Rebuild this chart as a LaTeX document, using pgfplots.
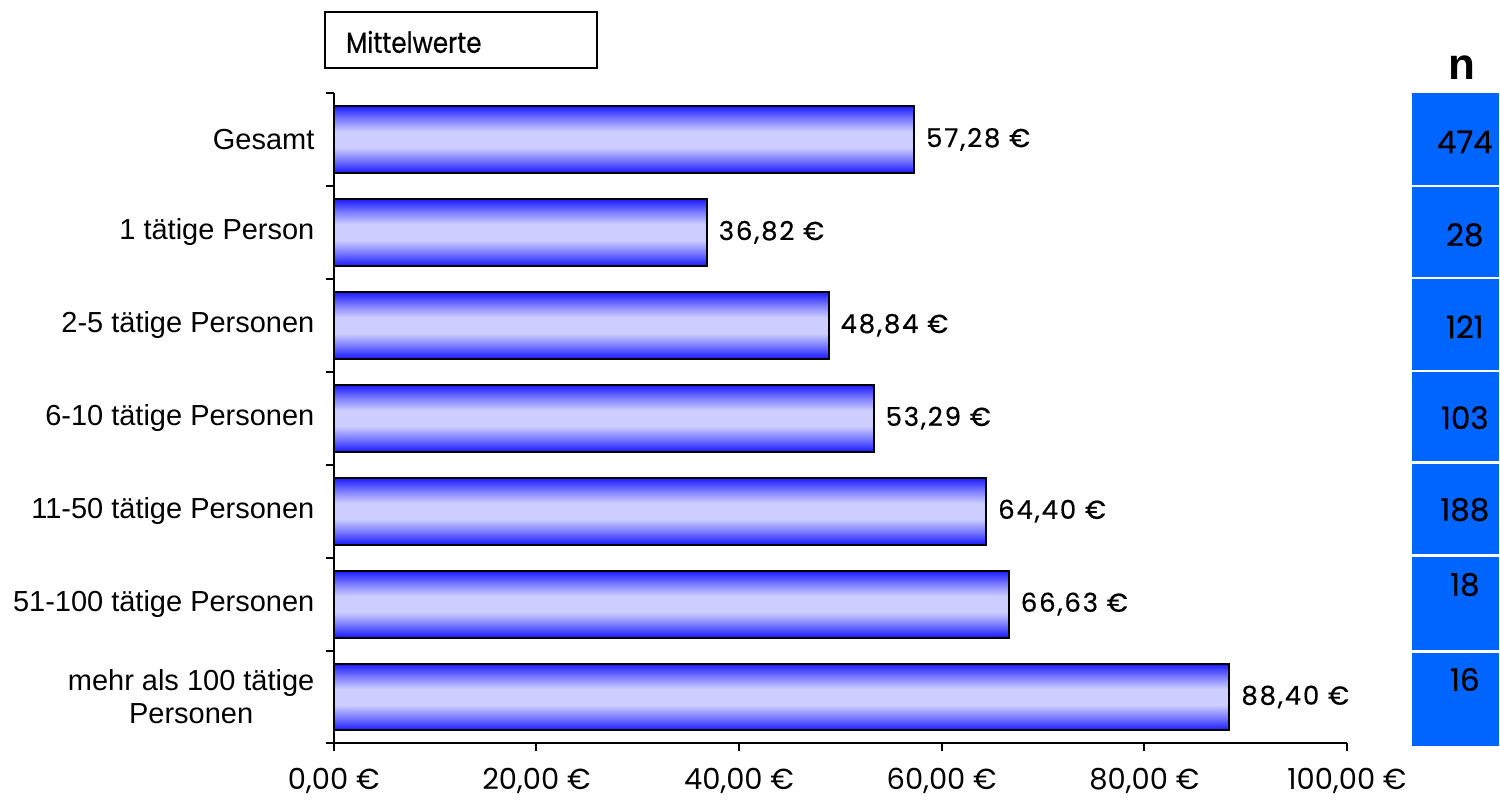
\documentclass[border=0pt]{standalone}
\usepackage{fontspec}
\setmainfont{Liberation Sans}
\newfontfamily\fut{Poppins}
\newfontfamily\futb[FakeBold=0.6]{Poppins}
\newfontfamily\futls[LetterSpace=7,FakeBold=0.5]{Poppins}
\newfontfamily\futt[FakeStretch=0.85,FakeBold=0.5]{Poppins}
\usepackage{pgfplots}
\pgfplotsset{compat=1.18}
\definecolor{panelblue}{RGB}{0,100,255}
\definecolor{barlight}{RGB}{205,205,255}
\definecolor{barmid}{RGB}{125,125,255}
\definecolor{barblue}{RGB}{25,25,255}
\pgfdeclareverticalshading{barshade}{100bp}{color(0bp)=(barblue); color(25bp)=(barblue); color(35bp)=(barmid); color(44bp)=(barlight); color(56bp)=(barlight); color(65bp)=(barmid); color(75bp)=(barblue); color(100bp)=(barblue)}
\pgfplotsset{mybar/.style={draw=black, line width=1bp, shade, shading=barshade, bar shift=0pt}}

\begin{document}
\begin{tikzpicture}
\begin{scope}[x=0.5bp,y=-0.5bp]
\useasboundingbox (0,0) rectangle (1500,802);
\end{scope}
\begin{axis}[
  at={(167bp,-372bp)}, anchor=south west,
  scale only axis, width=507bp, height=325.5bp,
  xmin=0, xmax=100, ymin=-0.5, ymax=6.5,
  y dir=reverse,
  axis x line*=bottom, axis y line*=left,
  axis line style={line width=1bp},
  tick style={line width=1bp, black},
  tick align=outside,
  major tick length=4bp,
  xtick={0,20,...,100},
  /pgf/number format/assume math mode=true,
  /pgf/number format/.cd, fixed, fixed zerofill, precision=2, use comma,
  /pgfplots/.cd,
  xticklabel={\pgfmathprintnumber{\tick} €},
  xticklabel style={font=\fut\fontsize{14.5bp}{16bp}\selectfont, yshift=-5bp},
  ytick={-0.5,0.5,...,6.5},
  yticklabels={},
  extra y ticks={0,1,2,3,4,5,6},
  extra y tick labels={Gesamt,1 tätige Person,2-5 tätige Personen,6-10 tätige Personen,11-50 tätige Personen,51-100 tätige Personen,{mehr als 100 tätige\\Personen}},
  extra y tick style={major tick length=0pt,
    tick label style={font=\fontsize{14.5bp}{16.5bp}\selectfont, align=center, inner sep=0pt, xshift=-9.5bp}},
  xbar, bar width=33.5bp, bar shift=0pt,
  clip=false,
  nodes near coords={\pgfmathprintnumber{\pgfplotspointmeta} €},
  point meta=x,
  nodes near coords style={font=\futls\fontsize{13bp}{14bp}\selectfont, black, anchor=west, inner sep=0pt, xshift=5.5bp},
]
\addplot[mybar] coordinates {(57.28,0)};
\addplot[mybar] coordinates {(36.82,1)};
\addplot[mybar] coordinates {(48.84,2)};
\addplot[mybar] coordinates {(53.29,3)};
\addplot[mybar] coordinates {(64.40,4)};
\addplot[mybar] coordinates {(66.63,5)};
\addplot[mybar] coordinates {(88.40,6)};
\end{axis}
\begin{scope}[x=0.5bp,y=-0.5bp]
% n panel
\fill[panelblue] (1413,93) rectangle (1500,747);
\foreach \yy in {186,278,371,463,556,652} {\draw[white, line width=1.2bp] (1413,\yy) -- (1500,\yy);}
\node[font=\bfseries\fontsize{22bp}{24bp}\selectfont] at (1463,68) {n};
\foreach \t/\yy in {474/142,28/235,121/327,103/418,188/510,18/585,16/680}
  {\node[font=\futb\fontsize{15.5bp}{18bp}\selectfont] at (1466,\yy) {\t};}
% title box
\draw[line width=1bp] (325,12) rectangle (597,68);
\node[font=\futt\fontsize{14.5bp}{16bp}\selectfont, anchor=west, inner sep=0pt] at (346,42) {Mittelwerte};
\end{scope}
\end{tikzpicture}
\end{document}
